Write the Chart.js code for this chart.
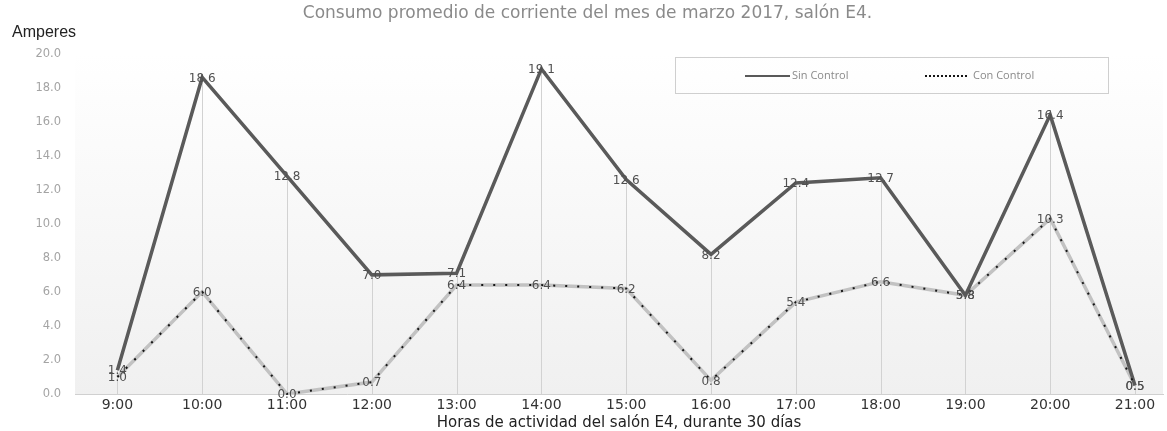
<!DOCTYPE html>
<html>
<head>
<meta charset="utf-8">
<script src="https://cdn.jsdelivr.net/npm/chart.js@4"></script>
<style>
  body { margin: 0; background: #fff; }
  #wrap { width: 1167px; height: 431px; }
</style>
</head>
<body>
<div id="wrap"><canvas id="chartConsumo"></canvas></div>
<script>
const hours = ["9:00", "10:00", "11:00", "12:00", "13:00", "14:00", "15:00",
    "16:00", "17:00", "18:00", "19:00", "20:00", "21:00"];
const sinControl = [1.4, 18.6, 12.8, 7.0, 7.1, 19.1, 12.6, 8.2, 12.4, 12.7, 5.8, 16.4, 0.5];
const conControl = [1.0, 6.0, 0.0, 0.7, 6.4, 6.4, 6.2, 0.8, 5.4, 6.6, 5.8, 10.3, 0.5];
const seriesNames = ["Sin Control", "Con Control"];
const yMax = 20;
const yStep = 2;

const toPoints = (arr) => arr.map((v, i) => ({ x: i, y: v }));

// fondo degradado, lineas de caida, puntos negros, etiquetas y leyenda
const decoPlugin = {
    id: "deco",
    beforeDraw(chart) {
        const { ctx, chartArea: a } = chart;
        ctx.save();
        ctx.fillStyle = "#fff";
        ctx.fillRect(0, 0, chart.width, chart.height);
        const g = ctx.createLinearGradient(0, a.top, 0, a.bottom);
        g.addColorStop(0, "#ffffff");
        g.addColorStop(1, "#f0f0f0");
        ctx.fillStyle = g;
        ctx.fillRect(a.left, a.top, a.right - a.left, a.bottom - a.top);
        ctx.restore();
    },
    beforeDatasetsDraw(chart) {
        const { ctx, chartArea: a } = chart;
        const pts = chart.getDatasetMeta(0).data;
        ctx.save();
        ctx.strokeStyle = "#d2d2d2";
        ctx.lineWidth = 1;
        pts.forEach(p => {
            const x = Math.round(p.x) + 0.5;
            ctx.beginPath();
            ctx.moveTo(x, p.y);
            ctx.lineTo(x, a.bottom);
            ctx.stroke();
        });
        ctx.restore();
    },
    afterDatasetsDraw(chart) {
        const { ctx } = chart;
        // puntos negros sobre la linea gris de "Con Control"
        const pts = chart.getDatasetMeta(1).data;
        ctx.save();
        ctx.strokeStyle = "#151515";
        ctx.lineWidth = 2;
        ctx.setLineDash([2, 10]);
        ctx.beginPath();
        pts.forEach((p, i) => i ? ctx.lineTo(p.x, p.y) : ctx.moveTo(p.x, p.y));
        ctx.stroke();
        ctx.setLineDash([]);

        ctx.font = '12px "DejaVu Sans"';
        ctx.fillStyle = "#505050";
        ctx.textAlign = "center";
        ctx.textBaseline = "middle";
        chart.data.datasets.forEach((ds, di) => {
            chart.getDatasetMeta(di).data.forEach((p, i) => {
                ctx.fillText(ds.data[i].y.toFixed(1), p.x, p.y + 1);
            });
        });
        ctx.restore();
    },
    afterDraw(chart) {
        const { ctx } = chart;
        const names = chart.data.datasets.map(d => d.label);
        ctx.save();
        ctx.strokeStyle = "#cfcfcf";
        ctx.lineWidth = 1;
        ctx.strokeRect(675.5, 57.5, 433, 36);
        ctx.font = '11px "Open Sans"';
        ctx.fillStyle = "#8a8a8a";
        ctx.textBaseline = "middle";
        ctx.textAlign = "left";
        ctx.strokeStyle = "#595959";
        ctx.lineWidth = 2;
        ctx.beginPath();
        ctx.moveTo(745, 76);
        ctx.lineTo(790, 76);
        ctx.stroke();
        ctx.fillText(names[0], 792, 76);
        ctx.strokeStyle = "#151515";
        ctx.setLineDash([2, 2]);
        ctx.beginPath();
        ctx.moveTo(925, 76);
        ctx.lineTo(968, 76);
        ctx.stroke();
        ctx.setLineDash([]);
        ctx.fillText(names[1], 973, 76);
        ctx.restore();
    }
};

const dataConsumo = {
    datasets: [{
        label: seriesNames[0],
        data: toPoints(sinControl),
        borderColor: "#5a5a5a",
        borderWidth: 3.5,
        pointRadius: 0,
        tension: 0,
    }, {
        label: seriesNames[1],
        data: toPoints(conControl),
        borderColor: "#c2c2c2",
        borderWidth: 3.5,
        pointRadius: 0,
        tension: 0,
    }],
};

const configConsumo = {
    type: "line",
    data: dataConsumo,
    options: {
        responsive: true,
        maintainAspectRatio: false,
        animation: false,
        layout: { padding: { left: 12, right: 4, top: 0, bottom: 0 } },
        plugins: {
            legend: { display: false },
            tooltip: { enabled: false },
            title: {
                display: true,
                text: "Consumo promedio de corriente del mes de marzo 2017, salón E4.",
                color: "#8a8a8a",
                font: { family: "DejaVu Sans", size: 17, weight: "normal" },
                padding: { top: 3, bottom: 0 },
            },
            subtitle: {
                display: true,
                text: "Amperes",
                align: "start",
                color: "#222",
                font: { family: "Liberation Sans", size: 16 },
                padding: { top: 0, bottom: 11 },
            },
        },
        scales: {
            x: {
                type: "linear",
                min: -0.5,
                max: 12.33,
                grid: { display: false, drawTicks: false },
                border: { display: true, color: "#d0d0d0" },
                afterBuildTicks: (scale) => {
                    scale.ticks = hours.map((h, i) => ({ value: i }));
                },
                ticks: {
                    autoSkip: false,
                    maxRotation: 0,
                    padding: 4,
                    color: "#333",
                    font: { family: "DejaVu Sans", size: 14, lineHeight: 1 },
                    callback: (v) => hours[v],
                },
                title: {
                    display: true,
                    text: "Horas de actividad del salón E4, durante 30 días",
                    color: "#222",
                    font: { family: "DejaVu Sans", size: 15, lineHeight: 1 },
                    padding: { top: 0, bottom: 0 },
                },
            },
            y: {
                min: 0,
                max: yMax,
                grid: { display: false, drawTicks: false },
                border: { display: false },
                ticks: {
                    stepSize: yStep,
                    padding: 14,
                    color: "#a4a4a4",
                    font: { family: "DejaVu Sans", size: 11.5 },
                    callback: (v) => v.toFixed(1),
                },
                afterFit: (scale) => { scale.width = 63; },
            },
        },
    },
    plugins: [decoPlugin],
};

var chartConsumo = new Chart(
    document.getElementById("chartConsumo"),
    configConsumo
);
</script>
</body>
</html>
